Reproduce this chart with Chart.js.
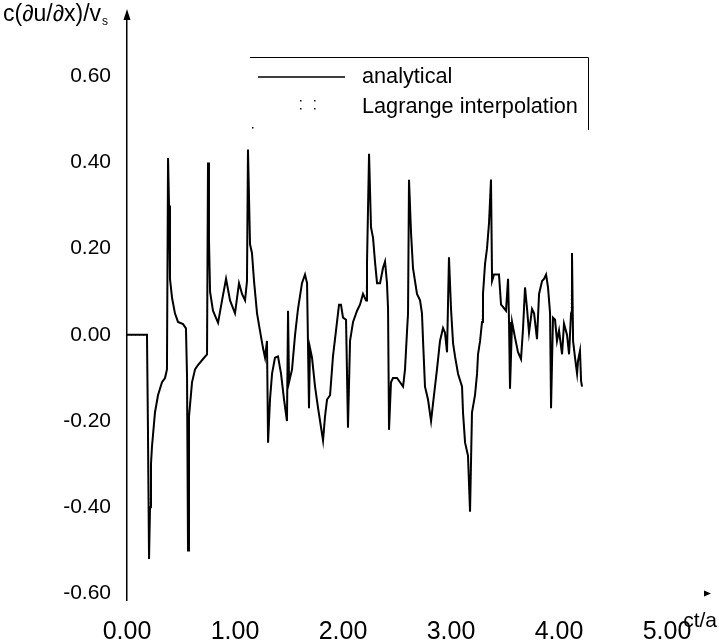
<!DOCTYPE html>
<html>
<head>
<meta charset="utf-8">
<script src="https://cdn.jsdelivr.net/npm/chart.js@4/dist/chart.umd.min.js"></script>
<style>
  html, body { margin: 0; padding: 0; background: #fff; }
  canvas { display: block; }
</style>
</head>
<body>
<canvas id="waveChart" width="719" height="644"></canvas>
<script>
// ct/a (time axis)
const ctA = [
  0.000, 0.185, 0.194, 0.204, 0.213, 0.222, 0.231, 0.259, 0.287, 0.324,
  0.352, 0.370, 0.380, 0.389, 0.398, 0.417, 0.444, 0.472, 0.519, 0.546,
  0.556, 0.565, 0.574, 0.602, 0.630, 0.657, 0.704, 0.741, 0.750, 0.759,
  0.769, 0.796, 0.843, 0.880, 0.917, 0.954, 1.000, 1.037, 1.065, 1.093,
  1.111, 1.120, 1.139, 1.157, 1.176, 1.204, 1.231, 1.259, 1.278, 1.296,
  1.306, 1.324, 1.343, 1.370, 1.398, 1.426, 1.454, 1.481, 1.491, 1.500,
  1.528, 1.556, 1.583, 1.620, 1.648, 1.667, 1.685, 1.694, 1.713, 1.741,
  1.769, 1.806, 1.815, 1.833, 1.852, 1.880, 1.907, 1.935, 1.963, 1.981,
  2.000, 2.028, 2.046, 2.065, 2.093, 2.130, 2.157, 2.185, 2.213, 2.222,
  2.241, 2.259, 2.278, 2.296, 2.315, 2.343, 2.370, 2.389, 2.407, 2.417,
  2.426, 2.444, 2.463, 2.500, 2.528, 2.556, 2.574, 2.593, 2.602, 2.611,
  2.630, 2.648, 2.685, 2.713, 2.731, 2.741, 2.759, 2.787, 2.815, 2.833,
  2.870, 2.898, 2.926, 2.944, 2.963, 2.981, 3.000, 3.019, 3.037, 3.065,
  3.102, 3.111, 3.130, 3.157, 3.176, 3.194, 3.222, 3.241, 3.250, 3.269,
  3.287, 3.296, 3.315, 3.333, 3.352, 3.370, 3.380, 3.398, 3.426, 3.444,
  3.463, 3.481, 3.509, 3.528, 3.537, 3.546, 3.565, 3.593, 3.620, 3.648,
  3.667, 3.685, 3.704, 3.722, 3.750, 3.769, 3.796, 3.815, 3.843, 3.861,
  3.880, 3.898, 3.917, 3.926, 3.944, 3.963, 3.981, 4.000, 4.028, 4.046,
  4.074, 4.093, 4.111, 4.120, 4.130, 4.148, 4.167, 4.176, 4.194, 4.204,
  4.213
];

// c(du/dx)/v, analytical solution
const analytical = [
  0.000, 0.000, -0.220, -0.520, -0.400, -0.300, -0.260, -0.180, -0.140, -0.110,
  -0.100, -0.080, 0.410, 0.300, 0.130, 0.086, 0.050, 0.030, 0.025, 0.015,
  -0.100, -0.500, -0.190, -0.110, -0.080, -0.070, -0.056, -0.045, 0.400, 0.220,
  0.100, 0.056, 0.028, 0.080, 0.130, 0.080, 0.050, 0.120, 0.095, 0.080,
  0.125, 0.430, 0.210, 0.190, 0.125, 0.050, 0.010, -0.030, -0.053, -0.014,
  -0.250, -0.150, -0.090, -0.053, -0.050, -0.090, -0.150, -0.200, 0.056, -0.110,
  -0.080, 0.000, 0.060, 0.120, 0.140, 0.120, -0.170, -0.030, -0.053, -0.120,
  -0.170, -0.230, -0.245, -0.190, -0.150, -0.140, -0.050, 0.010, 0.070, 0.070,
  0.040, 0.035, -0.215, -0.014, 0.030, 0.056, 0.070, 0.095, 0.080, 0.165,
  0.420, 0.250, 0.225, 0.170, 0.120, 0.120, 0.155, 0.170, 0.120, 0.060,
  -0.220, -0.110, -0.100, -0.100, -0.110, -0.120, -0.080, 0.010, 0.050, 0.360,
  0.235, 0.155, 0.095, 0.080, 0.050, -0.014, -0.120, -0.150, -0.200, -0.160,
  -0.080, -0.014, 0.016, 0.005, -0.040, 0.180, 0.060, -0.020, -0.050, -0.090,
  -0.120, -0.180, -0.250, -0.280, -0.410, -0.180, -0.140, -0.090, -0.045, -0.014,
  0.030, 0.095, 0.165, 0.200, 0.260, 0.360, 0.125, 0.140, 0.140, 0.140,
  0.070, 0.065, 0.056, 0.130, 0.030, -0.125, 0.030, -0.007, -0.040, -0.056,
  0.016, 0.110, 0.060, 0.005, 0.060, 0.050, -0.010, 0.095, 0.125, 0.130,
  0.140, 0.110, 0.050, -0.170, 0.040, 0.035, -0.014, 0.010, -0.045, 0.026,
  0.000, -0.045, 0.050, 0.190, -0.014, -0.053, -0.090, -0.060, -0.037, -0.107,
  -0.120
];

// Lagrange interpolation coincides with the analytical curve at this scale
const lagrange = analytical.slice();

const xTicks = [0, 1, 2, 3, 4, 5];
const yTicks = [-0.6, -0.4, -0.2, 0, 0.2, 0.4, 0.6];

const seriesNames = ['analytical', 'Lagrange interpolation'];
const xTitle = 'ct/a';
const yTitle = 'c(\u2202u/\u2202x)/v';

const FONT = '"Liberation Sans", Arial, sans-serif';

function toPoints(ys) {
  return ctA.map((x, i) => ({ x: x, y: ys[i] }));
}

// axis arrows, axis titles and the half-framed legend
const decorations = {
  id: 'decorations',
  afterDraw(chart) {
    const c = chart.ctx;
    const a = chart.chartArea;
    const ys = chart.scales.y;
    c.save();
    c.fillStyle = '#000';
    c.strokeStyle = '#000';

    // y arrow
    c.beginPath();
    c.moveTo(a.left, a.top - 6);
    c.lineTo(a.left - 3.5, a.top + 5);
    c.lineTo(a.left + 3.5, a.top + 5);
    c.closePath();
    c.fill();

    // x arrow (at -0.60 level)
    const yb = ys.getPixelForValue(-0.6);
    c.beginPath();
    c.moveTo(a.right - 4, yb);
    c.lineTo(a.right - 11, yb - 3);
    c.lineTo(a.right - 11, yb + 3);
    c.closePath();
    c.fill();

    c.font = '23px ' + FONT;
    c.textBaseline = 'middle';
    c.textAlign = 'left';
    c.fillText(yTitle, 3, 15);
    const w = c.measureText(yTitle).width;
    c.font = '12px ' + FONT;
    c.fillText('s', 3 + w + 1, 22);

    c.font = '21px ' + FONT;
    c.textAlign = 'right';
    c.fillText(xTitle, a.right + 2, yb + 28);

    // legend
    const lx = a.left + 123, ly = 57, rx = a.left + 461, by = 130;
    c.lineWidth = 1;
    c.beginPath();
    c.moveTo(lx, ly + 0.5);
    c.lineTo(rx + 0.5, ly + 0.5);
    c.lineTo(rx + 0.5, by);
    c.stroke();

    c.lineWidth = 1.5;
    c.beginPath();
    c.moveTo(lx + 8, 77);
    c.lineTo(lx + 95, 77);
    c.stroke();

    c.fillRect(lx + 50, 100, 1.5, 1.5);
    c.fillRect(lx + 64, 100, 1.5, 1.5);
    c.fillRect(lx + 50, 108, 1.5, 1.5);
    c.fillRect(lx + 64, 108, 1.5, 1.5);
    c.fillRect(lx + 2, 127, 1.5, 1.5);

    c.font = '21.7px ' + FONT;
    c.textAlign = 'left';
    c.fillText(seriesNames[0], lx + 112, 77);
    c.fillText(seriesNames[1], lx + 112, 107);
    c.restore();
  }
};

const ctx = document.getElementById('waveChart').getContext('2d');

new Chart(ctx, {
  type: 'line',
  data: {
    datasets: [
      {
        label: seriesNames[0],
        data: toPoints(analytical),
        borderColor: '#000',
        borderWidth: 2,
        pointRadius: 0,
        tension: 0,
        fill: false
      },
      {
        label: seriesNames[1],
        data: toPoints(lagrange),
        borderColor: '#000',
        borderWidth: 1,
        borderDash: [1, 3],
        pointRadius: 0,
        tension: 0,
        fill: false
      }
    ]
  },
  options: {
    responsive: false,
    animation: false,
    devicePixelRatio: 1,
    layout: { padding: { top: 15, right: 4, left: 0, bottom: 0 } },
    plugins: {
      legend: { display: false },
      tooltip: { enabled: false }
    },
    scales: {
      x: {
        type: 'linear',
        min: 0,
        max: 5.444,
        grid: { display: false, drawTicks: false },
        border: { display: false },
        afterBuildTicks: s => { s.ticks = xTicks.map(v => ({ value: v })); },
        afterFit: s => { s.height = 44; s.paddingLeft = 0; s.paddingRight = 0; },
        ticks: {
          color: '#000',
          padding: 17,
          maxRotation: 0,
          font: { family: FONT, size: 25 },
          callback: v => v.toFixed(2)
        }
      },
      y: {
        min: -0.615,
        max: 0.742,
        grid: { display: false, drawTicks: false },
        border: { display: true, color: '#000', width: 1.5 },
        afterBuildTicks: s => { s.ticks = yTicks.map(v => ({ value: v })); },
        afterFit: s => { s.width = 127; s.paddingTop = 0; s.paddingBottom = 0; },
        ticks: {
          color: '#000',
          padding: 16,
          font: { family: FONT, size: 21 },
          callback: v => v.toFixed(2)
        }
      }
    }
  },
  plugins: [decorations]
});
</script>
</body>
</html>
